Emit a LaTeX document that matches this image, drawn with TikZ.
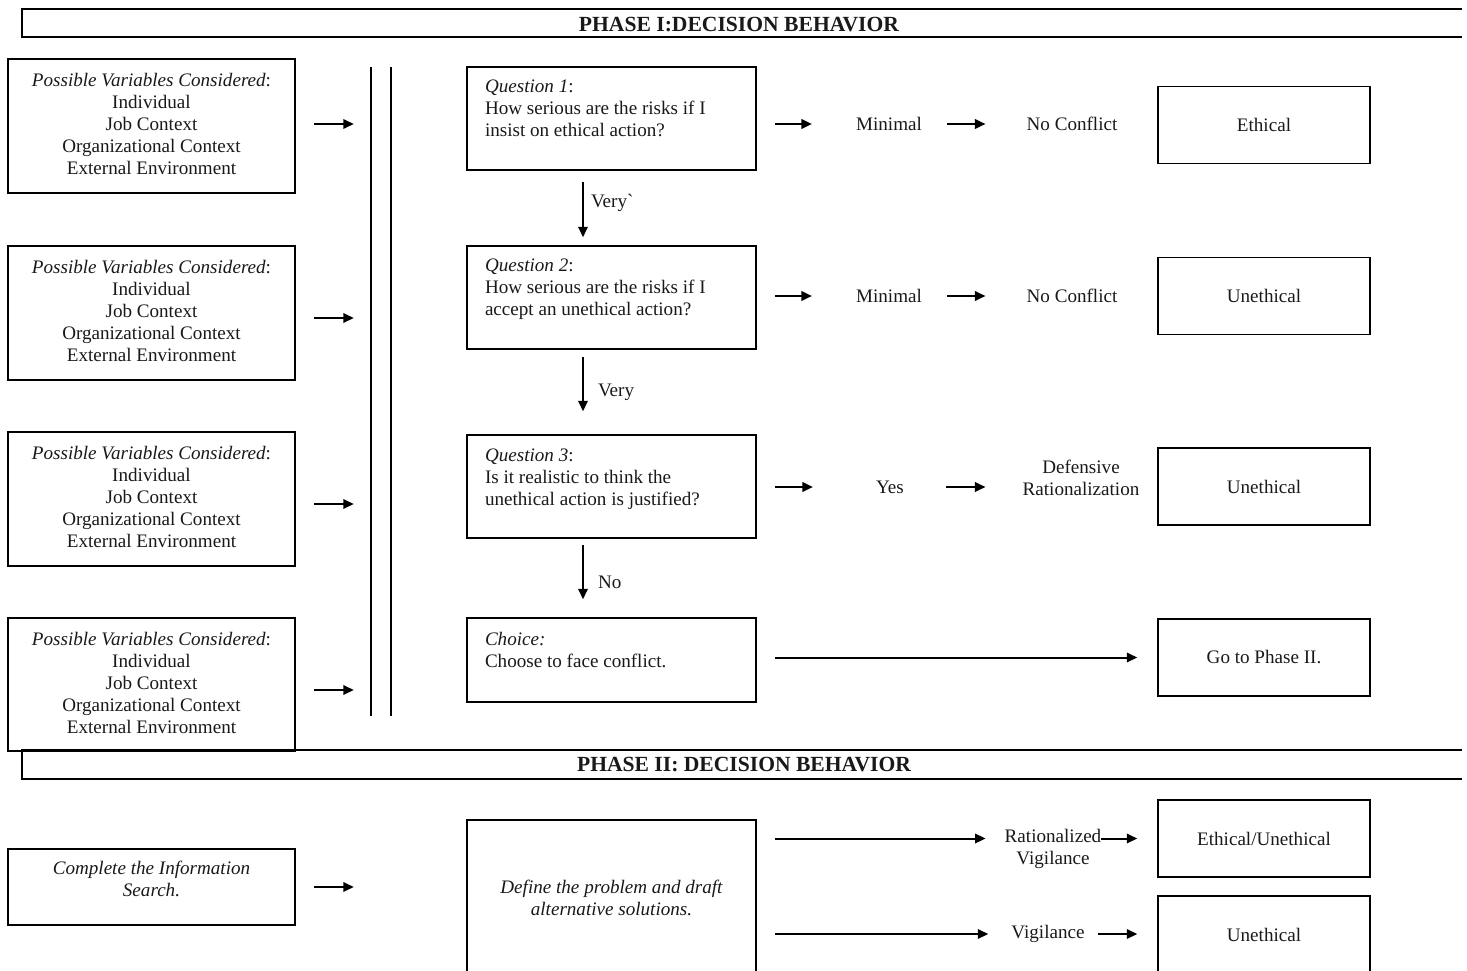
\documentclass[tikz,border=0pt]{standalone}
\usepackage{fontspec}
\setmainfont{Liberation Serif}
\usetikzlibrary{arrows.meta}
\begin{document}
\begin{tikzpicture}[x=1pt,y=-1pt,
  every node/.style={font=\fontsize{19.1}{22}\selectfont, text=black!90, inner sep=0pt},
  box/.style={draw, line width=1.5pt, rectangle},
  varbox/.style={box, minimum width=287pt, minimum height=134pt},
  qbox/.style={box, minimum width=289pt, minimum height=103pt},
  rbox/.style={box, minimum width=212pt, minimum height=77pt},
  arr/.style={line width=2pt, -{Triangle[length=10.5pt,width=9.5pt]}},
  title/.style={font=\fontsize{21.6}{24}\selectfont\bfseries}]
\useasboundingbox (0,0) rectangle (1467,971);
% Phase I banner
\draw[line width=1.3pt] (1462,9) -- (22,9) -- (22,37);
\draw[line width=2.8pt] (21.35,37) -- (1462,37);
\node[title] (ph1) at (739,25) {PHASE I:DECISION BEHAVIOR};
% left variable boxes
\newcommand{\vartext}{{\itshape Possible Variables Considered}:\\Individual\\Job Context\\Organizational Context\\External Environment\par\vspace*{4pt}}
\node[varbox] (v1) at (151.5,126) {\parbox{280pt}{\centering\vartext}};
\node[varbox] (v2) at (151.5,313) {\parbox{280pt}{\centering\vartext}};
\node[varbox] (v3) at (151.5,499) {\parbox{280pt}{\centering\vartext}};
\node[varbox, minimum height=133pt] (v4) at (151.5,684.5) {\parbox{280pt}{\centering\vartext}};
\draw[arr] ([xshift=18pt,yshift=2pt]v1.east) -- ++(40,0);
\draw[arr] ([xshift=18pt,yshift=-5pt]v2.east) -- ++(40,0);
\draw[arr] ([xshift=18pt,yshift=-5pt]v3.east) -- ++(40,0);
\draw[arr] ([xshift=18pt,yshift=-5.5pt]v4.east) -- ++(40,0);
% double vertical lines
\draw[line width=1.4pt] (371,67) -- (371,716);
\draw[line width=1.4pt] (391,67) -- (391,716);
% question boxes
\node[qbox] (q1) at (611.5,118.5) {\parbox[c][77pt][t]{253pt}{\raggedright\textit{Question 1}:\\How serious are the risks if I\\insist on ethical action?}};
\node[qbox] (q2) at (611.5,297.5) {\parbox[c][77pt][t]{253pt}{\raggedright\textit{Question 2}:\\How serious are the risks if I\\accept an unethical action?}};
\node[qbox] (q3) at (611.5,486.5) {\parbox[c][75pt][t]{253pt}{\raggedright\textit{Question 3}:\\Is it realistic to think the\\unethical action is justified?}};
\node[qbox, minimum height=84pt] (ch) at (611.5,660) {\parbox[c][56pt][t]{253pt}{\raggedright\textit{Choice:}\\Choose to face conflict.}};
% down arrows
\draw[arr, shorten <=11pt, shorten >=8pt] ([xshift=-28.5pt]q1.south) -- ([xshift=-28.5pt]q2.north)
  node[pos=0.43, anchor=west, xshift=7pt] (l1) {Very\textasciigrave};
\draw[arr, shorten <=7pt, shorten >=23pt] ([xshift=-28.5pt]q2.south) -- ([xshift=-28.5pt]q3.north)
  node[midway, anchor=west, xshift=14pt] (l2) {Very};
\draw[arr, shorten <=6pt, shorten >=18pt] ([xshift=-28.5pt]q3.south) -- ([xshift=-28.5pt]ch.north)
  node[pos=0.56, anchor=west, xshift=14pt] (l3) {No};
% right column boxes
\node[rbox] (r1) at (1264,125) {\raisebox{-2pt}{Ethical}};
\node[rbox] (r2) at (1264,296) {\raisebox{-3pt}{Unethical}};
\node[rbox] (r3) at (1264,486.5) {\raisebox{-3pt}{Unethical}};
\node[rbox] (r4) at (1264,657.5) {\raisebox{-3pt}{Go to Phase II.}};
% row 1
\node (m1) at (889,124) {Minimal};
\node (n1) at (1072,124) {No Conflict};
\draw[arr, shorten <=18pt, shorten >=44pt] (q1.east |- m1) -- (m1.west);
\draw[arr, shorten <=25pt, shorten >=41pt] (m1.east) -- (n1.west);
% row 2
\node (m2) at (889,296) {Minimal};
\node (n2) at (1072,296) {No Conflict};
\draw[arr, shorten <=18pt, shorten >=44pt] (q2.east |- m2) -- (m2.west);
\draw[arr, shorten <=25pt, shorten >=41pt] (m2.east) -- (n2.west);
% row 3
\node (y3) at (890,487) {Yes};
\node[align=center] (d3) at (1081,478) {Defensive\\Rationalization};
\draw[arr, shorten <=18pt, shorten >=63pt] (q3.east |- y3) -- (y3.west);
\draw[arr, shorten <=42pt, shorten >=37pt] (y3.east) -- (y3.east -| d3.west);
% row 4
\draw[arr, shorten <=18pt, shorten >=20pt] (ch.east |- r4) -- (r4.west);
% Phase II banner
\draw[line width=2.8pt] (1462,750) -- (21.35,750);
\draw[line width=1.3pt] (22,750) -- (22,779) -- (1462,779);
\node[title] (ph2) at (744,765) {PHASE II: DECISION BEHAVIOR};
% Phase II content
\node[box, minimum width=287pt, minimum height=76pt] (cis) at (151.5,887) {};
\node[align=center, font=\fontsize{19.1}{22}\selectfont\itshape] (cist) at (151.5,879) {Complete the Information\\Search.};
\draw[arr] ([xshift=18pt]cis.east) -- ++(40,0);
\node[box, minimum width=289pt, minimum height=156pt, font=\fontsize{19.1}{22}\selectfont\itshape] (def) at (611.5,898) {\raisebox{3pt}{\parbox{270pt}{\centering Define the problem and draft\\alternative solutions.}}};
\node[rbox] (r5) at (1264,838.5) {\raisebox{-3pt}{Ethical/Unethical}};
\node[rbox] (r6) at (1264,934.5) {Unethical};
\node[align=center] (rv) at (1053,849) {Rationalized\\Vigilance};
\node (vg) at (1048,934) {Vigilance};
\draw[arr, shorten <=18pt, shorten >=19pt] (def.east |- r5) -- (rv.west |- r5);
\draw[arr, shorten >=20pt] (rv.east |- r5) -- (r5.west);
\draw[arr, shorten <=18pt, shorten >=23pt] (def.east |- vg) -- (vg.west);
\draw[arr, shorten <=13pt, shorten >=20pt] (vg.east) -- (vg.east -| r6.west);
\end{tikzpicture}
\end{document}
